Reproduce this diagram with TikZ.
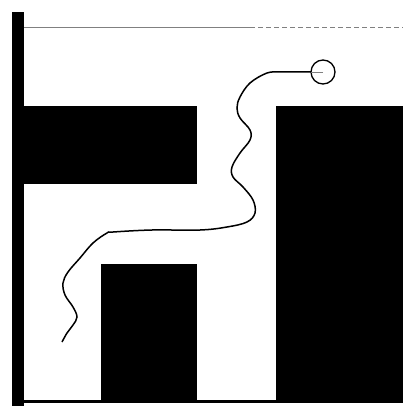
\documentclass[tikz,border=0pt]{standalone}
\begin{document}
\begin{tikzpicture}[x=1pt,y=-1pt,
  wall/.style={fill=black,draw=none},
  rope/.style={line width=1.5pt,black},
  ball/.style={circle,draw=black,line width=1.3pt,minimum size=24pt,inner sep=0pt},
  ceiling/.style={gray,line width=0.7pt}]
\useasboundingbox (0,0) rectangle (403,406);
% walls and blocks
\fill[wall] (12,12) rectangle (24,406);
\fill[wall] (24,106) rectangle (197,184);
\fill[wall] (276,106) rectangle (403,403);
\fill[wall] (101,264) rectangle (197,403);
\fill[wall] (24,400) rectangle (403,403);
% ceiling line
\coordinate (c0) at (24,27);
\coordinate (c1) at (250,27);
\coordinate (c2) at (403,27);
\draw[ceiling] (c0) -- (c1);
\draw[ceiling,dash pattern=on 5pt off 3pt] (c1) -- (c2);
% ball
\node[ball] (b) at (323,72) {};
\draw[gray,line width=0.6pt] (b.center) -- (b.west);
\draw[rope] plot[smooth,tension=0.6] coordinates {
 (311,72) (290,72) (280,72) (267,73) (250,83) (240,97) (237,108) (240,118)
 (250,130) (250,140) (240,153) (232,167) (233,177) (243,187) (253,200)
 (255,213) (247,222) (227,227) (200,230) (152,230) (113,232) (107,233)
 (93,243) (80,258) (68,272) (63,283) (65,295) (73,307) (77,317) (73,325)
 (67,333) (62,342)};
\end{tikzpicture}
\end{document}
